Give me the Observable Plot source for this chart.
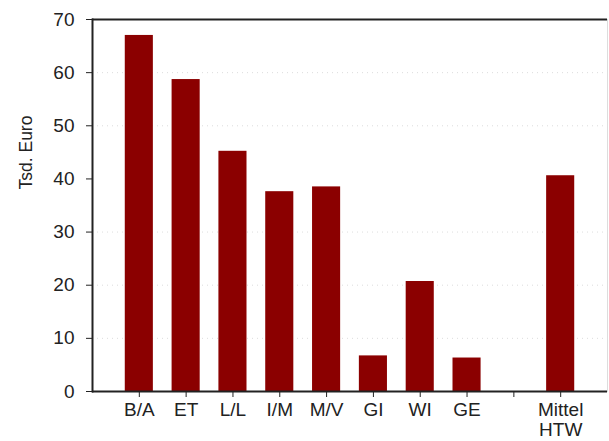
<!DOCTYPE html>
<html>
<head>
<meta charset="utf-8">
<script src="https://cdn.jsdelivr.net/npm/d3@7"></script>
<script src="https://cdn.jsdelivr.net/npm/@observablehq/plot@0.6"></script>
<style>
  html, body { margin: 0; padding: 0; background: #fff; }
</style>
</head>
<body>
<div id="chart"></div>
<script>
const categories = ["B/A", "ET", "L/L", "I/M", "M/V", "GI", "WI", "GE", "", "Mittel\nHTW"];
const barCategories = ["B/A", "ET", "L/L", "I/M", "M/V", "GI", "WI", "GE", "Mittel\nHTW"];
const values = [67.0, 58.7, 45.2, 37.6, 38.5, 6.7, 20.7, 6.3, 40.6];
const yTicks = [0, 10, 20, 30, 40, 50, 60, 70];

const data = barCategories.map((c, i) => ({cat: c, value: values[i]}));

const chart = Plot.plot({
  width: 609,
  height: 441,
  marginTop: 19,
  marginBottom: 50,
  marginLeft: 92,
  marginRight: 2,
  style: {fontFamily: "'Liberation Sans', Arial, sans-serif", fontSize: "19px", color: "#222", background: "#fff"},
  x: {domain: categories, paddingInner: 0.4, paddingOuter: 0.7, round: false},
  y: {domain: [0, 70]},
  marks: [
    Plot.frame({stroke: "#ddd", strokeWidth: 1}),
    Plot.gridY([10, 20, 30, 50, 60], {stroke: "#bbb", strokeOpacity: 0.5, strokeDasharray: "1,4"}),
    Plot.barY(data, {x: "cat", y: "value", fill: "#8b0000"}),
    Plot.ruleY([70], {stroke: "#222", strokeWidth: 2}),
    Plot.ruleY([0], {stroke: "#222", strokeWidth: 2}),
    Plot.frame({anchor: "left", stroke: "#222", strokeWidth: 2}),
    Plot.axisY({ticks: yTicks, tickSize: 6, tickPadding: 12, tickFormat: d => String(d), label: null, stroke: "#222", fontSize: 19}),
    Plot.axisX({tickSize: 6, tickPadding: 4, label: null, lineHeight: 1.05, stroke: "#222", fontSize: 19}),
    Plot.text(["Tsd. Euro"], {frameAnchor: "left", rotate: -90, dx: -66, dy: -16, fontSize: 17.5, fill: "#222"})
  ]
});
document.getElementById("chart").appendChild(chart);
</script>
</body>
</html>
